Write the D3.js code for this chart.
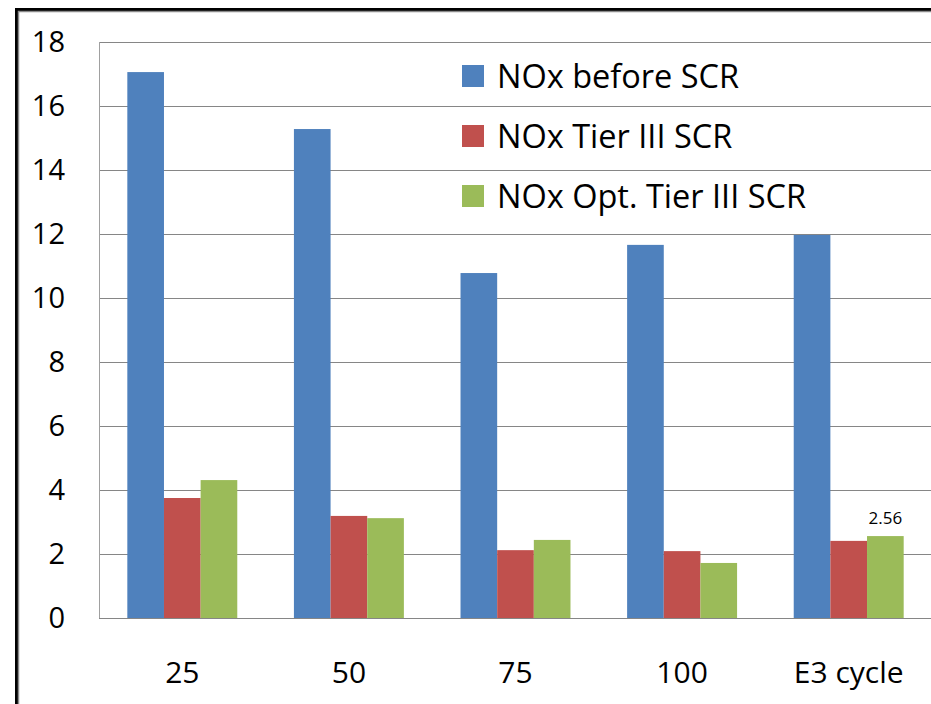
<!DOCTYPE html>
<html>
<head>
<meta charset="utf-8">
<script src="https://cdn.jsdelivr.net/npm/d3@7"></script>
<style>
  body { margin: 0; background: #fff; }
  svg { display: block; font-family: "Open Sans", sans-serif; }
</style>
</head>
<body>
<div id="chart"></div>
<script>
// Data
const categories = ["25", "50", "75", "100", "E3 cycle"];
const seriesNames = ["NOx before SCR", "NOx Tier III SCR", "NOx Opt. Tier III SCR"];
const noxBefore = [17.06, 15.28, 10.78, 11.66, 11.97];
const noxTier3 = [3.75, 3.19, 2.12, 2.09, 2.41];
const noxOptTier3 = [4.31, 3.12, 2.44, 1.72, 2.56];
const yTicks = [0, 2, 4, 6, 8, 10, 12, 14, 16, 18];
const colors = ["#4F81BD", "#C0504D", "#9BBB59"];

const W = 931, H = 704;
const margin = {top: 42, right: -1, bottom: 86, left: 99},
    width = W - margin.left - margin.right,
    height = H - margin.top - margin.bottom;

const svg = d3.select("#chart")
  .append("svg")
    .attr("width", W)
    .attr("height", H);

// Outer frame (runs off the right/bottom edge like the screenshot)
svg.append("rect")
    .attr("x", 16.5).attr("y", 9.5)
    .attr("width", W + 20).attr("height", H + 20)
    .attr("fill", "#fff")
    .attr("stroke", "#000")
    .attr("stroke-width", 3);
svg.append("path")
    .attr("d", `M18.5,${H + 5}V11.5H${W + 5}`)
    .attr("fill", "none")
    .attr("stroke", "#8a8a8a")
    .attr("stroke-width", 1.5);

const g = svg.append("g")
    .attr("transform", `translate(${margin.left},${margin.top})`);

// Scales
const x0 = d3.scaleBand()
    .domain(categories)
    .range([0, width])
    .paddingInner(0.34)
    .paddingOuter(0.17);

const x1 = d3.scaleBand()
    .domain(d3.range(seriesNames.length))
    .range([0, x0.bandwidth()]);

const y = d3.scaleLinear()
    .domain([0, 18])
    .range([height, 0]);

// Gridlines
g.append("g")
  .selectAll("line")
  .data(yTicks.filter(d => d > 0))
  .join("line")
    .attr("x1", 0).attr("x2", width)
    .attr("y1", d => Math.round(y(d)) + 0.5)
    .attr("y2", d => Math.round(y(d)) + 0.5)
    .attr("stroke", "#868686")
    .attr("stroke-width", 1);

// Y axis line
g.append("line")
    .attr("x1", 0.5).attr("x2", 0.5)
    .attr("y1", 0).attr("y2", height)
    .attr("stroke", "#a0a0a0");

// Y tick labels
g.append("g")
  .selectAll("text")
  .data(yTicks)
  .join("text")
    .attr("x", -34)
    .attr("y", d => y(d))
    .attr("dy", "0.36em")
    .attr("text-anchor", "end")
    .attr("font-size", 29)
    .attr("fill", "#000")
    .text(d => d);

// Bars
const seriesData = [noxBefore, noxTier3, noxOptTier3];
const groups = g.append("g")
  .selectAll("g")
  .data(categories)
  .join("g")
    .attr("transform", d => `translate(${x0(d)},0)`);

groups.selectAll("rect")
  .data((d, i) => seriesData.map((s, k) => ({k: k, v: s[i]})))
  .join("rect")
    .attr("x", d => x1(d.k))
    .attr("y", d => y(d.v))
    .attr("width", x1.bandwidth())
    .attr("height", d => height - y(d.v))
    .attr("fill", d => colors[d.k]);

// Baseline
g.append("line")
    .attr("x1", 0).attr("x2", width)
    .attr("y1", height + 0.5).attr("y2", height + 0.5)
    .attr("stroke", "#868686");

// X labels
g.append("g")
  .selectAll("text")
  .data(categories)
  .join("text")
    .attr("x", d => x0(d) + x0.bandwidth() / 2)
    .attr("y", height + 65)
    .attr("text-anchor", "middle")
    .attr("font-size", 30)
    .attr("fill", "#000")
    .text(d => d);

// Data label on the last green bar
const last = categories.length - 1;
g.append("text")
    .attr("x", x0(categories[last]) + x1(2) + x1.bandwidth() / 2)
    .attr("y", y(noxOptTier3[last]) - 12)
    .attr("text-anchor", "middle")
    .attr("font-size", 17)
    .attr("fill", "#000")
    .text(noxOptTier3[last].toFixed(2));

// Legend
const legendX = 462, legendY = 76, legendSpace = 60;
seriesNames.forEach((name, i) => {
    svg.append("rect")
        .attr("x", legendX)
        .attr("y", legendY + i * legendSpace - 11)
        .attr("width", 22)
        .attr("height", 22)
        .attr("fill", colors[i]);
    svg.append("text")
        .attr("x", legendX + 35)
        .attr("y", legendY + i * legendSpace)
        .attr("dy", "0.36em")
        .attr("font-size", 32.5)
        .attr("fill", "#000")
        .text(name);
});
</script>
</body>
</html>
